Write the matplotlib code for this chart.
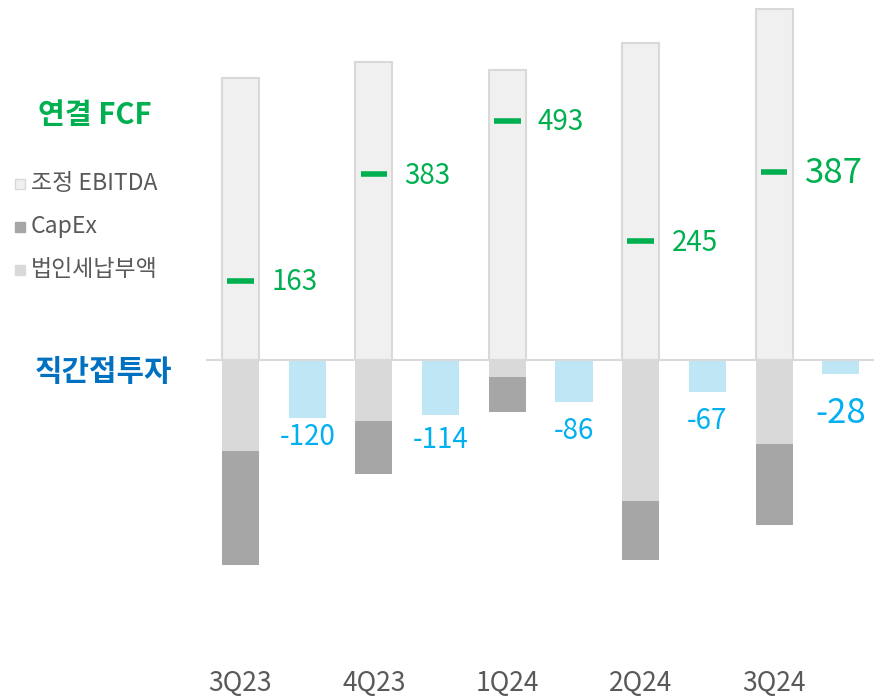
import numpy as np
import matplotlib.pyplot as plt
from matplotlib.patches import Rectangle

plt.rcParams['font.family'] = ['Noto Sans CJK KR', 'DejaVu Sans']

############## data

quarters = ["3Q23", "4Q23", "1Q24", "2Q24", "3Q24"]
ebitda = [581, 614, 598, 654, 724]
tax = [188, 126, 35, 291, 173]
capex = [235, 109, 72, 122, 167]
fcf = [163, 383, 493, 245, 387]
invest = [-120, -114, -86, -67, -28]

############## colours

c_ebitda = "#f0f0f0"
c_edge = "#d9d9d9"
c_tax = "#d9d9d9"
c_capex = "#a6a6a6"
c_invest = "#bfe6f5"
c_green = "#00b050"
c_blue_txt = "#00b0f0"
c_blue_title = "#0070c0"
c_grey_txt = "#595959"

W, H = 883, 696
fig = plt.figure(figsize=(W / 100, H / 100), dpi=100)
ax = fig.add_axes([0, 0, 1, 1])

# pixel -> data mapping: slot spacing 66.7 px, 0.485 px per unit, baseline at 360 px
slot = 66.7
px_unit = 0.485
x0 = 240.5
base = 360
ax.set_xlim(-x0 / slot, (W - x0) / slot)
ax.set_ylim(-(H - base) / px_unit, base / px_unit)
ax.axis("off")

bw = 0.555
xg = np.arange(len(quarters)) * 2.0
xb = xg + 1.0

neg_tax = [-t for t in tax]
neg_capex = [-c for c in capex]

ax.bar(xg, ebitda, bw, color=c_ebitda, edgecolor=c_edge, linewidth=1.5, zorder=2)
ax.bar(xg, neg_tax, bw, color=c_tax, linewidth=0, zorder=2)
ax.bar(xg, neg_capex, bw, bottom=neg_tax, color=c_capex, linewidth=0, zorder=2)
ax.bar(xb, invest, bw, color=c_invest, linewidth=0, zorder=2)

# baseline
ax.plot([(207 - x0) / slot, (873 - x0) / slot], [0, 0], color=c_edge, lw=1.5, zorder=3)

# FCF markers + labels
for i, v in enumerate(fcf):
    ax.plot([xg[i] - 0.2, xg[i] + 0.2], [v, v], color=c_green, lw=4, solid_capstyle="butt", zorder=4)
    last = i == len(fcf) - 1
    ax.text(xb[i] - 0.54, v - 3, f"{v}", color=c_green, fontsize=25 if last else 20,
            ha="left", va="center")

# investment labels (gap under each bar, in points)
label_gap = [2.4, 7.3, 10.2, 9.5, 15.8]
for i, v in enumerate(invest):
    last = i == len(invest) - 1
    ax.annotate(f"{v}", (xb[i], v), xytext=(0, -label_gap[i]), textcoords="offset points",
                ha="center", va="top", color=c_blue_txt,
                fontsize=25 if last else 20)

# quarter labels
for i, q in enumerate(quarters):
    ax.text(xg[i], -(683 - base) / px_unit, q, color=c_grey_txt, fontsize=19,
            ha="center", va="center")

# legend-ish text on the left
def fx(px):
    return (px - x0) / slot

def fy(py):
    return (base - py) / px_unit

ax.text(fx(95), fy(115), "연결 FCF", color=c_green, fontsize=21, fontweight="bold",
        ha="center", va="center")
ax.text(fx(103), fy(372), "직간접투자", color=c_blue_title, fontsize=21.5, fontweight="bold",
        ha="center", va="center")

legend_items = [("조정 EBITDA", c_ebitda, 184), ("CapEx", c_capex, 227), ("법인세납부액", c_tax, 270)]
for label, col, py in legend_items:
    sq = 10
    ax.add_patch(Rectangle((fx(15), fy(py + sq / 2)), sq / slot, sq / px_unit,
                           facecolor=col, edgecolor=c_edge if col == c_ebitda else col,
                           linewidth=1, clip_on=False))
    ax.text(fx(31), fy(py), label, color=c_grey_txt, fontsize=16.5,
            ha="left", va="center")

fig.savefig("out.png", dpi=100)
